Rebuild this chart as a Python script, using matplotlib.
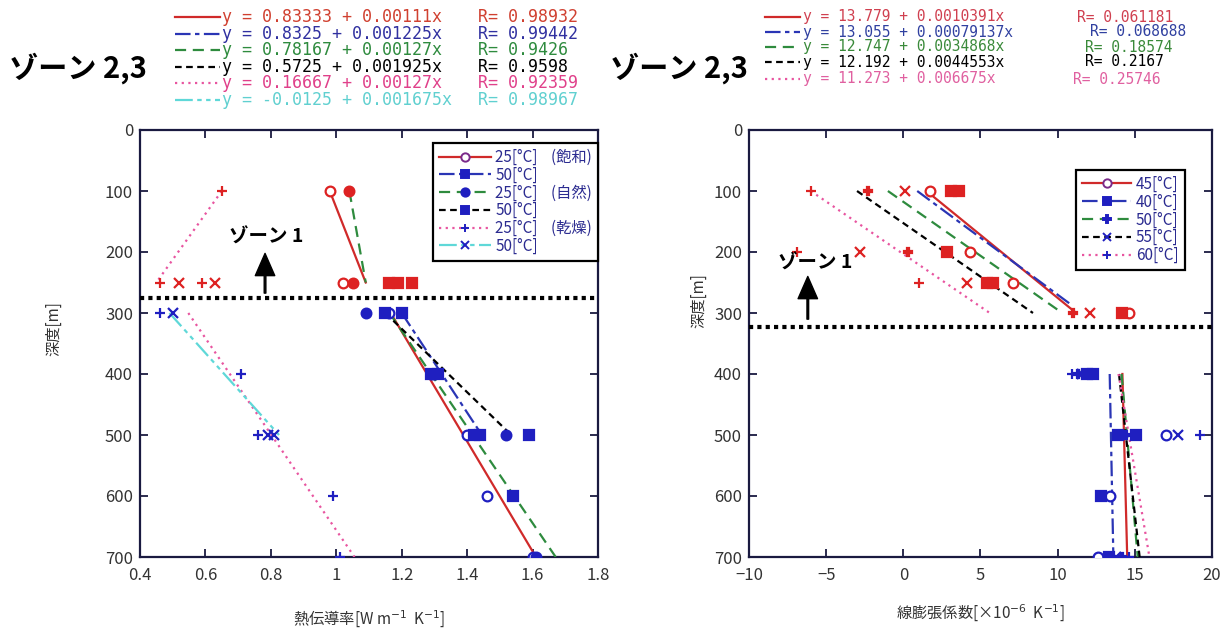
import matplotlib
matplotlib.use('Agg')
import matplotlib.pyplot as plt
from matplotlib.lines import Line2D
import numpy as np

plt.rcParams['font.family'] = ['Noto Sans CJK JP', 'DejaVu Sans']

# ---------------- data : left panel (thermal conductivity) ----------------
left_labels = ['25[°C]    (飽和)', '50[°C]', '25[°C]    (自然)', '50[°C]', '25[°C]    (乾燥)', '50[°C]']
left_intercepts = ['0.83333', '0.8325', '0.78167', '0.5725', '0.16667', '-0.0125']
left_slopes = ['0.00111', '0.001225', '0.00127', '0.001925', '0.00127', '0.001675']
left_R = ['0.98932', '0.99442', '0.9426', '0.9598', '0.92359', '0.98967']
left_fit_range = [[300, 700], [300, 500], [300, 700], [300, 500], [300, 700], [300, 500]]

left_z1_depth = [[100, 250], [250, 250], [100, 250], [250], [100, 250, 250], [250, 250]]
left_z1_val = [[0.98, 1.02], [1.19, 1.23], [1.04, 1.05], [1.16], [0.65, 0.46, 0.59], [0.63, 0.52]]
left_z23_depth = [[300, 400, 500, 600, 700], [300, 400, 500, 600], [300, 400, 500, 700],
                  [300, 400, 500, 500], [300, 400, 500, 600, 700], [300, 500, 500]]
left_z23_val = [[1.16, 1.29, 1.40, 1.46, 1.60], [1.20, 1.31, 1.44, 1.54], [1.09, 1.30, 1.52, 1.61],
                [1.15, 1.29, 1.59, 1.42], [0.46, 0.71, 0.76, 0.99, 1.01], [0.50, 0.79, 0.81]]
# zone-1 trend segments (series index, depths, values)
left_z1_seg_series = [0, 2, 4]
left_z1_seg_depth = [[100, 250], [100, 250], [100, 250]]
left_z1_seg_val = [[0.98, 1.09], [1.04, 1.09], [0.65, 0.45]]
left_xticks = [0.4, 0.6, 0.8, 1.0, 1.2, 1.4, 1.6, 1.8]
left_xticklabels = ['0.4', '0.6', '0.8', '1', '1.2', '1.4', '1.6', '1.8']

# ---------------- data : right panel (linear expansion) ----------------
right_labels = ['45[°C]', '40[°C]', '50[°C]', '55[°C]', '60[°C]']
right_intercepts = ['13.779', '13.055', '12.747', '12.192', '11.273']
right_slopes = ['0.0010391', '0.00079137', '0.0034868', '0.0044553', '0.006675']
right_R = ['0.061181', '0.068688', '0.18574', '0.2167', '0.25746']
right_fit_range = [[400, 700]] * 5

right_z1_depth = [[100, 200, 250, 300], [100, 100, 200, 250, 250, 300], [100, 200, 300],
                  [100, 200, 250, 300], [100, 200, 250]]
right_z1_val = [[1.7, 4.3, 7.1, 14.6], [3.1, 3.6, 2.8, 5.4, 5.8, 14.2], [-2.3, 0.3, 11.0],
                [0.1, -2.8, 4.1, 12.1], [-6.0, -6.9, 1.0]]
right_z23_depth = [[500, 600, 700], [400, 400, 500, 500, 600, 700], [400, 500, 700],
                   [400, 500, 700], [400, 500, 700]]
right_z23_val = [[17.0, 13.4, 12.6], [11.9, 12.3, 13.9, 15.1, 12.8, 13.3], [11.3, 14.4, 14.2],
                 [11.6, 17.8, 13.8], [10.9, 19.2, 14.6]]
right_z1_seg_depth = [[100, 300], [100, 285], [100, 300], [100, 300], [100, 300]]
right_z1_seg_val = [[1.5, 11.2], [0.9, 10.8], [-1.0, 10.3], [-3.0, 8.4], [-6.0, 5.6]]
right_xticks = [-10, -5, 0, 5, 10, 15, 20]

yticks = [0, 100, 200, 300, 400, 500, 600, 700]
zone_boundary_left = 275
zone_boundary_right = 323

# ---------------- styles ----------------
RED_M = '#dd2222'
BLUE_M = '#1f1fc0'
left_colors = ['#d02a2a', '#2a35b5', '#2e8b3e', '#000000', '#e855a0', '#5fd8d8']
left_styles = ['-', (0, (7, 2, 2, 2)), (0, (5, 3)), (0, (3, 2)), (0, (1, 2)), (0, (8, 2, 2, 2, 2, 2))]
left_markers = ['o', 's', 'o', 's', '+', 'x']
left_open = [True, False, False, False, False, False]
left_eq_colors = ['#d04030', '#3030a0', '#2e8b3e', '#000000', '#e0408a', '#60d0d0']

right_colors = ['#d02a2a', '#2a35b5', '#2e8b3e', '#000000', '#e855a0']
right_styles = ['-', (0, (7, 2, 2, 2)), (0, (5, 3)), (0, (3, 2)), (0, (1, 2))]
right_markers = ['o', 's', 'P', 'x', '+']
right_open = [True, False, False, False, False]
right_eq_colors = ['#d04050', '#3040a0', '#3a8a3a', '#000000', '#e060a0']

W, H = 1220, 632
fig = plt.figure(figsize=(12.2, 6.32), dpi=100)


def fx(px):
    return px / W


def fy(py):
    return 1 - py / H


axL = fig.add_axes([fx(140), fy(557), (598 - 140) / W, (557 - 130) / H])
axR = fig.add_axes([fx(749), fy(557), (1212 - 749) / W, (557 - 130) / H])


def style_axes(ax):
    for s in ax.spines.values():
        s.set_linewidth(1.6)
        s.set_color('#1a1a40')
    ax.tick_params(direction='in', top=True, right=True, length=6, width=1.3,
                   labelsize=12, labelcolor='#333333', colors='#1a1a40')
    ax.tick_params(axis='x', pad=7)
    ax.tick_params(axis='y', pad=5)
    ax.set_ylim(700, 0)
    ax.set_yticks(yticks)


def draw_points(ax, depths, vals, marker, is_open, color):
    ms = 7 if marker != 'P' else 6
    ax.plot(vals, depths, ls='none', marker=marker, ms=ms,
            mfc='white' if is_open else color, mec=color, mew=1.6, zorder=4)


# ---- left panel ----
style_axes(axL)
axL.set_xlim(0.4, 1.8)
axL.set_xticks(left_xticks)
axL.set_xticklabels(left_xticklabels)
for t in axL.get_xticklabels() + axL.get_yticklabels():
    t.set_color('#333333')
for i in range(6):
    draw_points(axL, left_z1_depth[i], left_z1_val[i], left_markers[i], left_open[i], RED_M)
    draw_points(axL, left_z23_depth[i], left_z23_val[i], left_markers[i], left_open[i], BLUE_M)
    d = np.array(left_fit_range[i], dtype=float)
    axL.plot(float(left_intercepts[i]) + float(left_slopes[i]) * d, d,
             color=left_colors[i], ls=left_styles[i], lw=1.6, zorder=3)
for k, s in enumerate(left_z1_seg_series):
    axL.plot(left_z1_seg_val[k], left_z1_seg_depth[k], color=left_colors[s], ls=left_styles[s],
             lw=1.6, zorder=3)
axL.axhline(zone_boundary_left, color='black', ls=(0, (1, 1)), lw=3, zorder=5)
axL.set_xlabel('熱伝導率[W m$^{-1}$  K$^{-1}$]', fontsize=11, color='#333333', labelpad=18)
axL.set_ylabel('深度[m]', fontsize=11, color='#333333')
axL.yaxis.set_label_coords(-0.17, 0.536)
axL.text(0.275, 0.748, 'ゾーン 1', transform=axL.transAxes, fontsize=14, fontweight='bold',
         ha='center', va='center', zorder=6)
axL.annotate('', xy=(0.273, 0.711), xytext=(0.273, 0.618), xycoords='axes fraction',
             arrowprops=dict(width=1.2, headwidth=14, headlength=16, facecolor='black',
                             edgecolor='black', shrink=0))

hL = [Line2D([], [], color=left_colors[i], ls=left_styles[i], lw=1.6, marker=left_markers[i],
             ms=6, mfc='white' if left_open[i] else BLUE_M,
             mec='#7a2a8a' if i == 0 else BLUE_M, mew=1.4) for i in range(6)]
legL = axL.legend(hL, left_labels, loc='upper right', bbox_to_anchor=(1.0, 0.97),
                  fontsize=11, labelspacing=0.05, handlelength=3.4, handletextpad=0.3,
                  borderpad=0.4, fancybox=False, framealpha=1, edgecolor='black',
                  borderaxespad=0)
legL.get_frame().set_linewidth(1.6)
for t in legL.get_texts():
    t.set_color('#2b2b90')

# ---- right panel ----
style_axes(axR)
axR.set_xlim(-10, 20)
axR.set_xticks(right_xticks)
for t in axR.get_xticklabels() + axR.get_yticklabels():
    t.set_color('#333333')
for i in range(5):
    draw_points(axR, right_z1_depth[i], right_z1_val[i], right_markers[i], right_open[i], RED_M)
    draw_points(axR, right_z23_depth[i], right_z23_val[i], right_markers[i], right_open[i], BLUE_M)
    d = np.array(right_fit_range[i], dtype=float)
    axR.plot(float(right_intercepts[i]) + float(right_slopes[i]) * d, d,
             color=right_colors[i], ls=right_styles[i], lw=1.6, zorder=3)
    axR.plot(right_z1_seg_val[i], right_z1_seg_depth[i], color=right_colors[i],
             ls=right_styles[i], lw=1.6, zorder=3)
axR.axhline(zone_boundary_right, color='black', ls=(0, (1, 1)), lw=3, zorder=5)
axR.set_xlabel('線膨張係数[×10$^{-6}$  K$^{-1}$]', fontsize=11, color='#333333', labelpad=14)
axR.set_ylabel('深度[m]', fontsize=11, color='#333333')
axR.yaxis.set_label_coords(-0.09, 0.6)
axR.text(0.143, 0.688, 'ゾーン 1', transform=axR.transAxes, fontsize=14, fontweight='bold',
         ha='center', va='center', zorder=6)
axR.annotate('', xy=(0.127, 0.657), xytext=(0.127, 0.557), xycoords='axes fraction',
             arrowprops=dict(width=1.2, headwidth=14, headlength=16, facecolor='black',
                             edgecolor='black', shrink=0))

hR = [Line2D([], [], color=right_colors[i], ls=right_styles[i], lw=1.6, marker=right_markers[i],
             ms=6, mfc='white' if right_open[i] else BLUE_M,
             mec='#7a2a8a' if i == 0 else BLUE_M, mew=1.4) for i in range(5)]
legR = axR.legend(hR, right_labels, loc='upper left', bbox_to_anchor=(0.707, 0.907),
                  fontsize=11, labelspacing=0.05, handlelength=3.2, handletextpad=0.3,
                  borderpad=0.4, fancybox=False, framealpha=1, edgecolor='black',
                  borderaxespad=0)
legR.get_frame().set_linewidth(1.6)
for t in legR.get_texts():
    t.set_color('#2b2b90')

# ---- titles ----
fig.text(fx(78), fy(68), 'ゾーン 2,3', fontsize=21, fontweight='bold', ha='center', va='center')
fig.text(fx(679), fy(68), 'ゾーン 2,3', fontsize=21, fontweight='bold', ha='center', va='center')

# ---- equation blocks ----
mono = ['DejaVu Sans Mono']
left_rows_y = [17, 34, 50, 67, 83, 100]
for i in range(6):
    y = fy(left_rows_y[i])
    fig.add_artist(Line2D([fx(175), fx(220)], [y, y], color=left_colors[i], ls=left_styles[i],
                          lw=1.6, transform=fig.transFigure))
    fig.text(fx(222), y, f'y = {left_intercepts[i]} + {left_slopes[i]}x', family=mono,
             fontsize=12, color=left_eq_colors[i], ha='left', va='center')
    fig.text(fx(478), y, f'R= {left_R[i]}', family=mono, fontsize=12,
             color=left_eq_colors[i], ha='left', va='center')

right_rows_y = [17, 32, 47, 62, 79]
right_R_x = [1077, 1090, 1085, 1085, 1073]
for i in range(5):
    y = fy(right_rows_y[i])
    fig.add_artist(Line2D([fx(765), fx(800)], [y, y], color=right_colors[i], ls=right_styles[i],
                          lw=1.6, transform=fig.transFigure))
    fig.text(fx(803), y, f'y = {right_intercepts[i]} + {right_slopes[i]}x', family=mono,
             fontsize=10.5, color=right_eq_colors[i], ha='left', va='center')
    fig.text(fx(right_R_x[i]), y, f'R= {right_R[i]}', family=mono, fontsize=10.5,
             color=right_eq_colors[i], ha='left', va='center')

fig.savefig('out.png', dpi=100)
